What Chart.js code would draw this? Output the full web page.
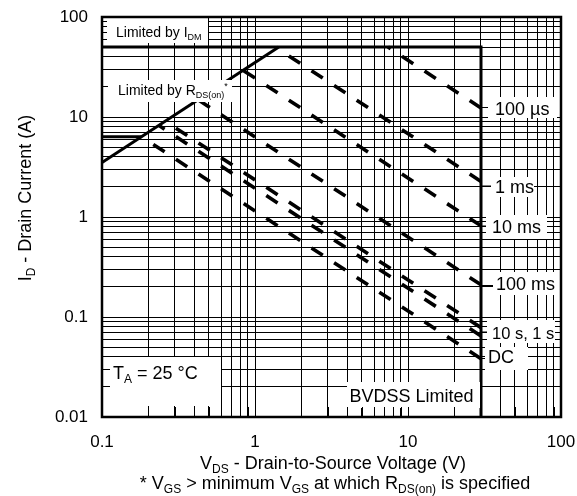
<!DOCTYPE html>
<html lang="en">
<head>
<meta charset="UTF-8">
<title>Safe Operating Area</title>
<script src="https://cdn.jsdelivr.net/npm/chart.js"></script>
<style>
  body { margin: 0; background: #fff; }
  #wrap { width: 577px; height: 496px; }
</style>
</head>
<body>
<div id="wrap"><canvas id="soaChart" width="577" height="496"></canvas></div>
<script>
// axis decades (tick labels)
const xDecades = [0.1, 1, 10, 100];
const yDecades = [0.01, 0.1, 1, 10, 100];

// limit lines: V (volts) and I (amps)
const idmV = [0.1, 30, 30];
const idmI = [50, 50, 0.01];
const rdsV = [0.1, 1.43];
const rdsI = [3.5, 50];
const lowV = [0.1, 0.181];
const lowI = [6.35, 6.35];

// pulse lines, each runs from the BVDSS end back to where it starts
const bvdssV = 30;
const pulseNames = ['100 µs', '1 ms', '10 ms', '100 ms', '1 s', '10 s', 'DC'];
const pulseEndI = [12.3, 2.27, 0.817, 0.21, 0.0783, 0.0647, 0.0383];
const pulseStartV = [7.4, 1.39, 0.836, 0.424, 0.259, 0.235, 0.181];
const pulseStartI = [50, 48.9, 29.3, 14.9, 9.08, 8.25, 6.35];

const FONT = '"Liberation Sans", Arial, Helvetica, sans-serif';

function gridValues(decades) {
    const out = [];
    decades.forEach((d, i) => {
        if (i === decades.length - 1) { out.push(d); return; }
        for (let k = 1; k < 10; k++) out.push(+(d * k).toPrecision(3));
    });
    return out;
}
const xGrid = gridValues(xDecades);
const yGrid = gridValues(yDecades);

function pts(xs, ys) { return xs.map((x, i) => ({x: x, y: ys[i]})); }

const solid = {showLine: true, pointRadius: 0, borderColor: '#000', borderWidth: 3, fill: false};
const datasets = [
    Object.assign({data: pts(idmV, idmI)}, solid),
    Object.assign({data: pts(rdsV, rdsI)}, solid),
    Object.assign({data: pts(lowV, lowI)}, solid)
];
pulseNames.forEach((name, i) => {
    datasets.push({
        label: name,
        data: [{x: bvdssV, y: pulseEndI[i]}, {x: pulseStartV[i], y: pulseStartI[i]}],
        showLine: true, pointRadius: 0, borderColor: '#000', borderWidth: 3.6,
        borderDash: [13.5, 13.5], borderCapStyle: 'butt', fill: false
    });
});

// draw text made of pieces: [text, ''|'sub'|'sup']
function rich(ctx, parts, x, y, size, align) {
    const font = p => (p[1] ? Math.round(size * 0.66) : size) + 'px ' + FONT;
    let w = 0;
    parts.forEach(p => { ctx.font = font(p); w += ctx.measureText(p[0]).width; });
    let cx = align === 'center' ? x - w / 2 : x;
    ctx.textAlign = 'left';
    ctx.textBaseline = 'alphabetic';
    parts.forEach(p => {
        ctx.font = font(p);
        const dy = p[1] === 'sub' ? size * 0.24 : (p[1] === 'sup' ? -size * 0.42 : 0);
        ctx.fillText(p[0], cx, y + dy);
        cx += ctx.measureText(p[0]).width;
    });
}

// white label boxes: [left, top, right, bottom], text start, baseline, size
const boxes = [
    {r: [107, 17, 208, 43], x: 116, y: 36.5, s: 14, t: [['Limited by I', ''], ['DM', 'sub']]},
    {r: [108, 80, 232, 102], x: 118, y: 95, s: 14, t: [['Limited by R', ''], ['DS(on)', 'sub'], ['*', 'sup']]},
    {r: [488, 97, 557, 118], x: 495, y: 114.5, s: 18, t: [['100 µs', '']], lead: 107.5},
    {r: [491, 177, 534, 197], x: 495, y: 193, s: 18, t: [['1 ms', '']], lead: 186},
    {r: [486, 215, 547, 239], x: 492, y: 232.5, s: 18, t: [['10 ms', '']], lead: 226},
    {r: [493, 272, 561, 295], x: 496, y: 289.5, s: 18, t: [['100 ms', '']], lead: 285.5},
    {r: [487, 320, 555, 343], x: 492, y: 339, s: 16.5, t: [['10 s, 1 s', '']], lead: 332},
    {r: [485, 347, 528, 370], x: 488, y: 362.5, s: 18, t: [['DC', '']], lead: 358.5},
    {r: [347, 382, 480, 408], x: 349.5, y: 401.5, s: 18, t: [['BVDSS Limited', '']]},
    {r: [110, 357, 221, 406], x: 113, y: 378.5, s: 18, t: [['T', ''], ['A', 'sub'], [' = 25 °C', '']]}
];

const overlay = {
    id: 'overlay',
    afterDatasetsDraw(chart) {
        const ctx = chart.ctx, a = chart.chartArea;
        const xs = chart.scales.x;
        ctx.save();
        ctx.fillStyle = '#000';
        ctx.strokeStyle = '#000';
        boxes.forEach(b => {
            ctx.fillStyle = '#fff';
            ctx.fillRect(b.r[0], b.r[1], b.r[2] - b.r[0], b.r[3] - b.r[1]);
            if (b.lead) {
                ctx.lineWidth = 1;
                ctx.beginPath();
                ctx.moveTo(xs.getPixelForValue(bvdssV), b.lead);
                ctx.lineTo(b.r[0], b.lead);
                ctx.stroke();
            }
            ctx.fillStyle = '#000';
            rich(ctx, b.t, b.x, b.y, b.s, 'left');
        });
        // short ticks along the bottom edge
        ctx.lineWidth = 1;
        xGrid.forEach(v => {
            const px = Math.round(xs.getPixelForValue(v)) + 0.5;
            ctx.beginPath();
            ctx.moveTo(px, a.bottom);
            ctx.lineTo(px, a.bottom - 10);
            ctx.stroke();
        });
        ctx.lineWidth = 2.5;
        ctx.strokeRect(a.left, a.top, a.right - a.left, a.bottom - a.top);
        ctx.restore();
    },
    afterDraw(chart) {
        const ctx = chart.ctx;
        ctx.save();
        ctx.fillStyle = '#000';
        rich(ctx, [['V', ''], ['DS', 'sub'], [' - Drain-to-Source Voltage (V)', '']], 333, 469, 18, 'center');
        rich(ctx, [['* V', ''], ['GS', 'sub'], [' > minimum V', ''], ['GS', 'sub'], [' at which R', ''],
                   ['DS(on)', 'sub'], [' is specified', '']], 335, 489, 18, 'center');
        ctx.translate(31, 198);
        ctx.rotate(-Math.PI / 2);
        rich(ctx, [['I', ''], ['D', 'sub'], [' - Drain Current (A)', '']], 0, 0, 18, 'center');
        ctx.restore();
    }
};

function isDecade(list, v) { return list.some(d => Math.abs(d - v) / d < 1e-6); }

new Chart(document.getElementById('soaChart'), {
    type: 'scatter',
    data: {datasets: datasets},
    options: {
        responsive: false,
        animation: false,
        devicePixelRatio: 1,
        layout: {padding: {left: 0, right: 16, top: 17, bottom: 0}},
        plugins: {legend: {display: false}, tooltip: {enabled: false}},
        scales: {
            x: {
                type: 'logarithmic', min: 0.1, max: 100,
                afterBuildTicks: s => { s.ticks = xGrid.map(v => ({value: v})); },
                afterFit: s => { s.height = 79; s.paddingLeft = 0; s.paddingRight = 0; },
                grid: {color: '#000', lineWidth: 1, drawTicks: false},
                border: {display: false},
                ticks: {
                    autoSkip: false, maxRotation: 0, padding: 15, color: '#000',
                    font: {family: FONT, size: 17},
                    callback: v => isDecade(xDecades, v) ? String(v) : ''
                }
            },
            y: {
                type: 'logarithmic', min: 0.01, max: 100,
                afterBuildTicks: s => { s.ticks = yGrid.map(v => ({value: v})); },
                afterFit: s => { s.width = 102; s.paddingTop = 0; s.paddingBottom = 0; },
                grid: {color: '#000', lineWidth: 1, drawTicks: false},
                border: {display: false},
                ticks: {
                    autoSkip: false, padding: 14, color: '#000',
                    font: {family: FONT, size: 17},
                    callback: v => isDecade(yDecades, v) ? String(v) : ''
                }
            }
        }
    },
    plugins: [overlay]
});
</script>
</body>
</html>
